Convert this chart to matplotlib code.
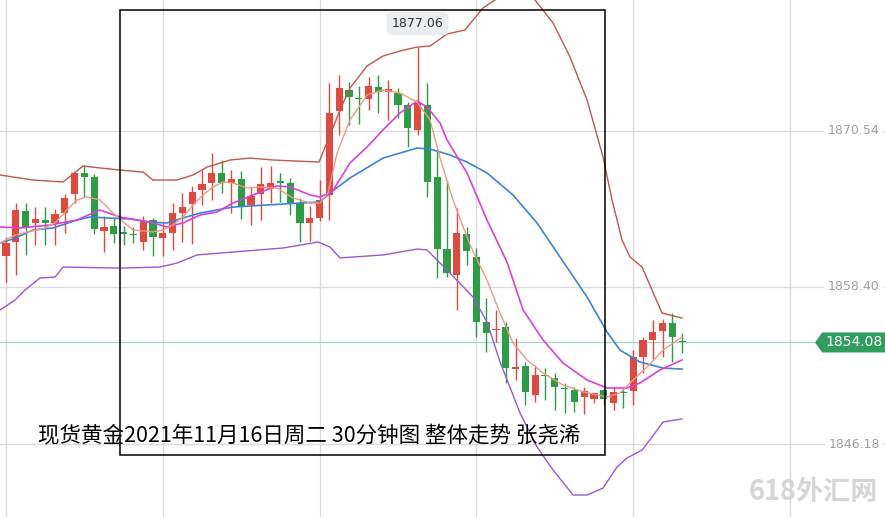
import matplotlib.pyplot as plt
from matplotlib.patches import Rectangle, Polygon
import numpy as np

plt.rcParams['font.family'] = ['Noto Sans CJK SC', 'DejaVu Sans']

# candle data (30 min bars)
opens = [1860.81, 1861.90, 1864.31, 1863.38, 1863.61, 1863.38, 1864.15, 1865.63, 1867.27, 1866.96,
         1862.75, 1863.14, 1862.68, 1862.52, 1861.90, 1863.61, 1862.21, 1862.60, 1864.15, 1864.85,
         1865.94, 1866.49, 1867.27, 1866.49, 1866.80, 1864.78, 1865.63, 1866.02, 1866.64, 1866.49,
         1864.93, 1863.38, 1863.77, 1865.56, 1872.09, 1873.73, 1873.14, 1873.03, 1873.96, 1873.57,
         1873.49, 1872.56, 1870.61, 1872.56, 1866.96, 1861.35, 1859.33, 1862.52, 1860.73, 1855.67,
         1855.05, 1855.28, 1852.01, 1852.25, 1849.99, 1851.55, 1851.31, 1850.54, 1850.38, 1849.84,
         1849.68, 1850.38, 1849.37, 1850.23, 1850.30, 1852.95, 1854.27, 1854.97, 1855.59, 1854.20]
closes = [1861.82, 1864.39, 1863.07, 1863.69, 1863.38, 1864.08, 1865.32, 1867.27, 1866.96, 1862.91,
          1863.07, 1862.52, 1862.52, 1862.44, 1863.53, 1862.29, 1862.60, 1864.15, 1864.62, 1865.79,
          1866.41, 1867.27, 1866.49, 1866.80, 1864.70, 1865.48, 1866.41, 1866.49, 1866.49, 1864.93,
          1863.38, 1863.77, 1865.17, 1871.94, 1873.88, 1873.18, 1873.06, 1874.04, 1873.57, 1873.80,
          1872.56, 1870.77, 1872.71, 1866.57, 1861.35, 1859.49, 1862.60, 1861.20, 1855.67, 1854.82,
          1855.13, 1852.09, 1852.17, 1850.22, 1851.55, 1851.47, 1850.61, 1850.46, 1849.45, 1850.30,
          1850.15, 1849.68, 1850.23, 1850.15, 1852.95, 1854.27, 1854.89, 1855.59, 1854.50, 1854.08]
highs = [1862.29, 1864.93, 1864.93, 1864.62, 1864.62, 1864.47, 1865.63, 1867.34, 1867.89, 1867.19,
         1863.92, 1863.84, 1863.14, 1863.07, 1863.92, 1863.77, 1863.38, 1864.93, 1865.71, 1866.26,
         1867.50, 1868.82, 1868.28, 1867.50, 1867.42, 1866.18, 1867.73, 1867.81, 1867.27, 1866.88,
         1865.32, 1864.70, 1866.72, 1874.27, 1874.89, 1874.35, 1874.04, 1874.74, 1874.89, 1874.50,
         1873.88, 1872.79, 1877.06, 1874.27, 1869.06, 1866.72, 1864.54, 1863.07, 1861.43, 1857.54,
         1856.61, 1855.67, 1854.43, 1852.56, 1852.33, 1852.09, 1851.70, 1850.93, 1850.61, 1850.61,
         1850.23, 1850.54, 1850.61, 1850.54, 1853.49, 1854.50, 1855.83, 1855.91, 1856.37, 1854.82]
lows = [1858.79, 1859.33, 1860.89, 1861.67, 1861.67, 1861.67, 1862.60, 1864.93, 1865.40, 1862.52,
        1861.12, 1861.82, 1861.67, 1861.82, 1861.27, 1860.81, 1860.81, 1861.27, 1861.90, 1861.74,
        1864.78, 1865.17, 1865.71, 1864.15, 1863.69, 1863.22, 1863.61, 1864.93, 1865.01, 1864.00,
        1861.90, 1861.98, 1863.53, 1863.61, 1870.22, 1871.00, 1871.08, 1872.17, 1871.94, 1871.39,
        1871.55, 1869.29, 1870.22, 1865.40, 1859.10, 1859.17, 1856.61, 1860.11, 1854.50, 1853.34,
        1854.12, 1850.93, 1851.16, 1849.21, 1849.45, 1849.60, 1848.82, 1848.59, 1848.67, 1848.51,
        1849.37, 1849.21, 1848.82, 1848.98, 1849.21, 1851.70, 1852.71, 1852.95, 1852.56, 1853.26]

# indicator lines (bar position, price)
ub_x = [-0.61, 2.76, 5.82, 7.86, 9.59, 11.63, 13.98, 15.0, 17.45, 19.08, 20.51, 22.86, 24.9, 27.24,
        31.94, 33.06, 34.08, 35.1, 36.84, 38.47, 40.2, 41.94, 43.27, 45.0, 46.84, 48.67, 50.2, 51.94,
        53.98, 55.82, 57.55, 59.29, 60.92, 61.84, 62.86, 63.67, 64.9, 65.92, 66.94, 68.98]
ub_y = [1867.11, 1866.72, 1866.57, 1867.81, 1867.66, 1867.50, 1867.34, 1866.72, 1866.72, 1867.11,
        1867.73, 1868.28, 1868.43, 1868.28, 1868.12, 1870.22, 1872.17, 1873.88, 1875.59, 1876.37,
        1876.76, 1877.07, 1877.15, 1878.08, 1878.40, 1880.11, 1880.89, 1881.51, 1880.73, 1878.94,
        1876.29, 1872.95, 1868.51, 1865.17, 1862.05, 1860.73, 1859.95, 1858.16, 1856.37, 1855.98]

lb_x = [-0.61, 0.92, 1.94, 3.47, 5.0, 5.82, 11.63, 15.71, 17.45, 19.49, 23.16, 28.27, 31.84, 33.06,
        34.08, 38.47, 41.94, 42.96, 45.0, 47.65, 49.08, 50.41, 52.45, 54.18, 55.82, 57.86, 59.29,
        60.92, 62.35, 63.37, 64.9, 65.92, 67.04, 68.98]
lb_y = [1856.61, 1857.38, 1858.16, 1859.10, 1859.17, 1859.95, 1859.87, 1859.95, 1860.26, 1860.89,
        1861.12, 1861.43, 1861.90, 1861.51, 1860.66, 1860.89, 1861.35, 1861.28, 1859.72, 1857.62,
        1855.67, 1852.57, 1848.59, 1845.95, 1844.16, 1842.21, 1842.21, 1842.75, 1844.39, 1845.09,
        1845.71, 1846.72, 1847.89, 1848.13]

mid_x = [-0.61, 0.71, 2.76, 4.8, 7.24, 8.57, 10.31, 12.65, 14.69, 16.43, 18.06, 19.8, 23.16, 26.63,
         30.0, 32.04, 33.06, 35.1, 38.47, 40.2, 41.94, 43.27, 45.31, 47.04, 49.08, 51.73, 54.18,
         56.53, 59.29, 61.33, 62.65, 64.69, 67.04, 68.98]
mid_y = [1861.82, 1862.13, 1862.83, 1862.99, 1863.61, 1863.84, 1863.77, 1863.69, 1863.45, 1863.38,
         1863.77, 1864.15, 1864.62, 1864.78, 1864.93, 1865.01, 1865.71, 1866.88, 1868.43, 1868.82,
         1869.21, 1869.13, 1868.67, 1868.12, 1867.27, 1865.56, 1863.38, 1860.73, 1857.62, 1854.89,
         1853.49, 1852.56, 1852.09, 1852.01]

ma10_x = [-0.61, 1.43, 4.49, 7.24, 9.59, 11.63, 14.69, 16.43, 18.06, 19.8, 21.53, 23.16, 25.2, 27.65,
          28.98, 31.02, 32.04, 33.27, 35.1, 36.84, 38.47, 40.2, 41.94, 42.96, 44.29, 45.0, 47.04,
          49.08, 51.12, 52.76, 54.8, 56.84, 59.29, 61.33, 63.37, 64.69, 66.73, 68.98]
ma10_y = [1863.07, 1862.99, 1863.22, 1863.61, 1864.39, 1863.84, 1863.45, 1863.07, 1863.38, 1864.00,
          1864.23, 1864.93, 1865.56, 1866.26, 1866.18, 1865.56, 1865.40, 1865.79, 1868.05, 1869.29,
          1870.62, 1871.94, 1872.87, 1872.40, 1871.16, 1869.84, 1867.27, 1863.61, 1860.34, 1856.61,
          1854.27, 1852.48, 1851.16, 1850.54, 1850.54, 1850.93, 1851.94, 1852.72]

ma5_x = [-0.61, 0.92, 3.98, 5.0, 6.22, 7.24, 8.27, 9.59, 10.92, 12.35, 12.96, 15.0, 16.02, 17.04,
         18.06, 19.08, 20.1, 21.12, 22.14, 23.16, 24.59, 25.92, 27.65, 29.29, 31.02, 32.04, 32.86,
         33.78, 35.1, 36.84, 38.47, 40.2, 41.94, 43.27, 44.29, 45.61, 47.35, 49.08, 50.41, 51.73,
         53.16, 54.8, 56.84, 58.88, 61.33, 62.65, 63.98, 65.41, 67.04, 68.98]
ma5_y = [1861.82, 1862.44, 1862.99, 1863.38, 1864.39, 1865.17, 1865.40, 1865.17, 1864.15, 1863.22,
         1862.83, 1862.68, 1862.83, 1863.22, 1863.84, 1864.78, 1865.56, 1866.18, 1866.57, 1866.49,
         1866.10, 1866.18, 1866.10, 1865.32, 1864.93, 1864.93, 1865.71, 1868.82, 1871.39, 1873.34,
         1873.73, 1873.49, 1872.79, 1871.39, 1868.43, 1865.17, 1861.67, 1858.94, 1856.37, 1854.04,
         1852.72, 1851.70, 1850.77, 1850.23, 1849.84, 1850.15, 1851.16, 1852.17, 1853.49, 1854.50]

grid_prices = [1870.54, 1858.40, 1846.18]
last_price = 1854.08
peak_price = 1877.06
title_text = "现货黄金2021年11月16日周二 30分钟图 整体走势 张尧浠"

red = "#e2483d"
green = "#2a9d45"

fig = plt.figure(figsize=(8.85, 5.17), dpi=100)
ax = fig.add_axes([0, 0, 1, 1])
ax.set_xlim(-0.612, 89.69)
ax.set_ylim(1840.50, 1880.73)
for s in ax.spines.values():
    s.set_visible(False)
ax.set_xticks([])
ax.set_yticks([])

# grid
for gx in [0, 16, 32, 48, 64, 80]:
    ax.axvline(gx, color="#dcdcdc", lw=1, zorder=0)
for gp in grid_prices:
    ax.axhline(gp, color="#dcdcdc", lw=1, zorder=0)
    ax.text(0.994, gp, f"{gp:.2f}", transform=ax.get_yaxis_transform(), ha="right", va="center",
            fontsize=9, color="#a0a0a0", family="DejaVu Sans",
            bbox=dict(facecolor="white", edgecolor="none", pad=2.5), zorder=5)

# last price line
ax.axhline(last_price, color="#9ed8d0", lw=0.9, zorder=1)

# candles
o = np.array(opens)
c = np.array(closes)
h = np.array(highs)
l = np.array(lows)
x = np.arange(len(o))
cols = np.where(c >= o, red, green)
ax.vlines(x, l, h, colors=cols, lw=1.0, zorder=2)
bottom = np.minimum(o, c)
height = np.maximum(np.abs(c - o), 0.08)
ax.bar(x, height, bottom=bottom, width=0.72, color=cols, zorder=2)

# indicator lines
ax.plot(ub_x, ub_y, color="#c2574c", lw=1.0, zorder=3)
ax.plot(lb_x, lb_y, color="#9b57d6", lw=1.0, zorder=3)
ax.plot(mid_x, mid_y, color="#3b84d6", lw=1.2, zorder=3)
ax.plot(ma10_x, ma10_y, color="#dd3fdd", lw=1.2, zorder=3)
ax.plot(ma5_x, ma5_y, color="#ef9a84", lw=1.0, zorder=3)

# peak label
ax.annotate(f"{peak_price:.2f}", xy=(42, peak_price), xytext=(42, 1878.9),
            ha="center", va="center", fontsize=9, color="#333333", family="DejaVu Sans",
            bbox=dict(boxstyle="round,pad=0.4", facecolor="#e9edf0", edgecolor="none"), zorder=6)

# last price tag
tag = Polygon([[0.921, last_price], [0.929, last_price + 0.78], [1.0, last_price + 0.78],
               [1.0, last_price - 0.78], [0.929, last_price - 0.78]],
              closed=True, transform=ax.get_yaxis_transform(), facecolor="#2e9d5e",
              edgecolor="none", zorder=6)
ax.add_patch(tag)
ax.text(0.965, last_price, f"{last_price:.2f}", transform=ax.get_yaxis_transform(),
        ha="center", va="center", fontsize=10, color="white", family="DejaVu Sans", zorder=7)

# annotation box and caption
ax.add_patch(Rectangle((0.1356, 0.1199), 0.548, 0.8608, transform=ax.transAxes,
                       fill=False, edgecolor="black", lw=1.1, zorder=8))
ax.text(0.043, 0.155, title_text, transform=ax.transAxes, ha="left", va="center",
        fontsize=15.5, color="black", zorder=9)

# watermark
ax.text(0.992, 0.048, "618外汇网", transform=ax.transAxes, ha="right", va="center",
        fontsize=19.5, color="#d6d6d6", fontweight="bold", zorder=1)

fig.savefig("out.png", dpi=100)
